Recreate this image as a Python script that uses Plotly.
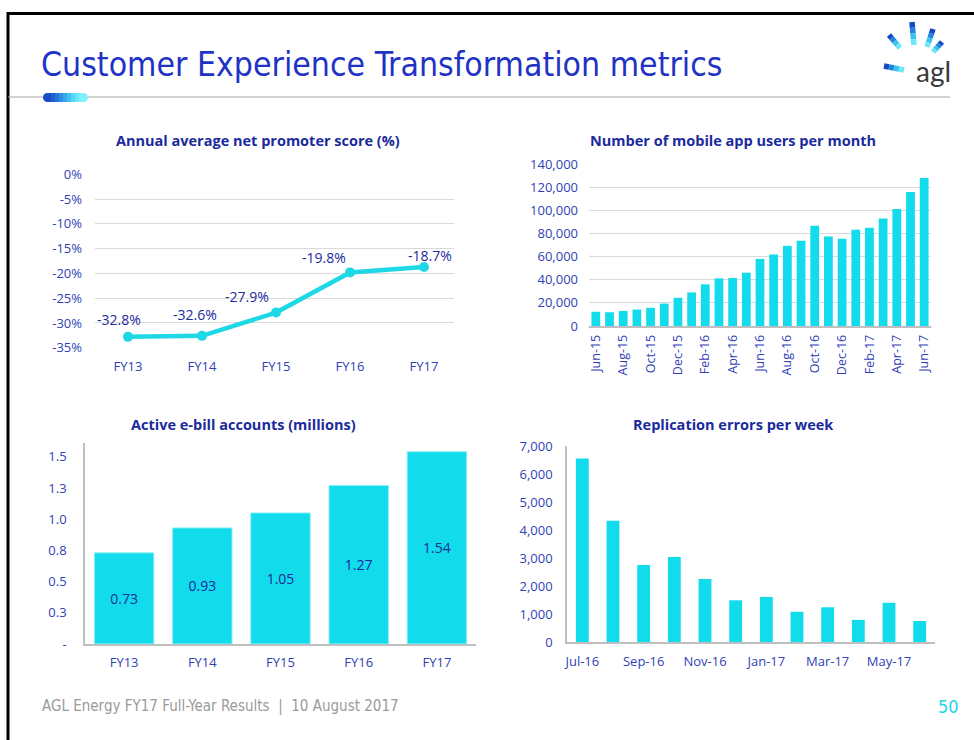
import plotly.graph_objects as go

# Annual average net promoter score (%)
nps_years = ["FY13", "FY14", "FY15", "FY16", "FY17"]
nps_values = [-32.8, -32.6, -27.9, -19.8, -18.7]
nps_ticks = [0, -5, -10, -15, -20, -25, -30, -35]

# Number of mobile app users per month
app_months = ["Jun-15", "Jul-15", "Aug-15", "Sep-15", "Oct-15", "Nov-15", "Dec-15",
              "Jan-16", "Feb-16", "Mar-16", "Apr-16", "May-16", "Jun-16", "Jul-16",
              "Aug-16", "Sep-16", "Oct-16", "Nov-16", "Dec-16", "Jan-17", "Feb-17",
              "Mar-17", "Apr-17", "May-17", "Jun-17"]
app_users = [12300, 11900, 13000, 14200, 15700, 19400, 24400, 29000, 36000, 41200,
             41500, 46100, 58000, 61800, 69300, 73600, 86700, 77400, 75400, 83200,
             85000, 92800, 101200, 115700, 127900]

# Active e-bill accounts (millions)
ebill_years = ["FY13", "FY14", "FY15", "FY16", "FY17"]
ebill_values = [0.73, 0.93, 1.05, 1.27, 1.54]
ebill_ticks = [0, 0.25, 0.5, 0.75, 1.0, 1.25, 1.5]
ebill_tick_labels = ["-", "0.3", "0.5", "0.8", "1.0", "1.3", "1.5"]

# Replication errors per week
rep_months = ["Jul-16", "Aug-16", "Sep-16", "Oct-16", "Nov-16", "Dec-16",
              "Jan-17", "Feb-17", "Mar-17", "Apr-17", "May-17", "Jun-17"]
rep_errors = [6550, 4330, 2750, 3040, 2250, 1490, 1610, 1080, 1240, 790, 1400, 750]

W, H = 974, 740
CYAN = "#12DCEB"
TICK_BLUE = "#2f3fb5"
TITLE_BLUE = "#1b2a9c"
GRID = "#d9d9d9"
AXIS = "#bfbfbf"
FONT = "Open Sans, Noto Sans, sans-serif"
NARROW = "Liberation Sans Narrow, DejaVu Sans Condensed, Roboto, sans-serif"


def px(x):
    return x / W


def py(y):
    return 1 - y / H


fig = go.Figure()

# --- line chart: NPS
fig.add_trace(go.Scatter(
    x=nps_years, y=nps_values, mode="lines+markers",
    line=dict(color="#1fd8e6", width=4.5),
    marker=dict(size=10, color="#1fd8e6"),
    xaxis="x", yaxis="y", showlegend=False, hoverinfo="skip"))

# label offsets in pixels (x, y) relative to each point
nps_label_shift = [(-9, 17), (-7, 21), (-29, 16), (-26, 15), (6, 11)]
for yr, v, (dx, dy) in zip(nps_years, nps_values, nps_label_shift):
    fig.add_annotation(x=yr, y=v, xref="x", yref="y", text=f"{v}%", showarrow=False,
                       xshift=dx, yshift=dy, font=dict(family=FONT, size=14, color=TITLE_BLUE))

# --- bar chart: app users
fig.add_trace(go.Bar(
    x=app_months, y=app_users, width=0.64, marker=dict(color=CYAN, line=dict(width=0)),
    xaxis="x2", yaxis="y2", showlegend=False, hoverinfo="skip"))

# --- bar chart: e-bill
fig.add_trace(go.Bar(
    x=ebill_years, y=ebill_values, width=0.76, text=[f"{v:.2f}" for v in ebill_values],
    textposition="inside", insidetextanchor="middle", textangle=0,
    textfont=dict(family=FONT, size=14, color=TITLE_BLUE),
    marker=dict(color=CYAN, line=dict(width=1, color="#8ff0f8")),
    xaxis="x3", yaxis="y3", showlegend=False, hoverinfo="skip"))

# --- bar chart: replication errors
fig.add_trace(go.Bar(
    x=rep_months, y=rep_errors, width=0.42, marker=dict(color=CYAN, line=dict(width=0)),
    xaxis="x4", yaxis="y4", showlegend=False, hoverinfo="skip"))

tickfont = dict(family=FONT, size=13, color=TICK_BLUE)

fig.update_layout(
    width=W, height=H, margin=dict(l=0, r=0, t=0, b=0),
    paper_bgcolor="white", plot_bgcolor="white",
    xaxis=dict(domain=[px(95), px(454)], anchor="y", tickfont=tickfont, showgrid=False,
               showline=False, ticks="", ticklabelstandoff=9),
    yaxis=dict(domain=[py(348), py(174)], anchor="x", range=[-35.05, 0.05],
               tickvals=nps_ticks, ticktext=[f"{t}%" for t in nps_ticks],
               tickfont=tickfont, showgrid=True, gridcolor=GRID, zeroline=False,
               ticklabelstandoff=12),
    xaxis2=dict(domain=[px(589), px(931)], anchor="y2",
                tickfont=dict(family=FONT, size=12.5, color=TICK_BLUE),
                tickangle=-90, tickvals=app_months[::2], showgrid=False, showline=True,
                linecolor=AXIS, linewidth=1.5, ticks="", ticklabelstandoff=2),
    yaxis2=dict(domain=[py(326), py(164)], anchor="x2", range=[0, 140000], dtick=20000,
                tickformat=",", tickfont=tickfont, showgrid=True, gridcolor=GRID,
                zeroline=False, ticklabelstandoff=10),
    xaxis3=dict(domain=[px(85), px(476)], anchor="y3", tickfont=tickfont, showgrid=False,
                showline=True, linecolor=AXIS, linewidth=1.5, ticks="", ticklabelstandoff=6),
    yaxis3=dict(domain=[py(644), py(443)], anchor="x3", range=[0, 1.61],
                tickvals=ebill_ticks, ticktext=ebill_tick_labels, tickfont=tickfont,
                showgrid=False, zeroline=False, showline=True, linecolor=AXIS,
                linewidth=1.5, ticklabelstandoff=14),
    xaxis4=dict(domain=[px(567), px(935)], anchor="y4", tickfont=tickfont, showgrid=False,
                tickvals=rep_months[::2], showline=True, linecolor=AXIS, linewidth=1.5,
                ticks="", ticklabelstandoff=7),
    yaxis4=dict(domain=[py(642), py(446)], anchor="x4", range=[0, 7000], dtick=1000,
                tickformat=",", tickfont=tickfont, showgrid=False, zeroline=False,
                showline=True, linecolor=AXIS, linewidth=1.5, ticklabelstandoff=10),
)
# keep the plot area at exactly the page size
fig.update_xaxes(automargin=False)
fig.update_yaxes(automargin=False)

# chart titles
for text, cx, cy in [("Annual average net promoter score (%)", 258, 140),
                     ("Number of mobile app users per month", 733, 140),
                     ("Active e-bill accounts (millions)", 243, 424),
                     ("Replication errors per week", 733, 424)]:
    fig.add_annotation(x=px(cx), y=py(cy), xref="paper", yref="paper", text=f"<b>{text}</b>",
                       showarrow=False, xanchor="center", yanchor="middle",
                       font=dict(family=FONT, size=14.5, color=TITLE_BLUE))

# slide title and footer
fig.add_annotation(x=px(39), y=py(64), xref="paper", yref="paper",
                   text="Customer Experience Transformation metrics", showarrow=False,
                   xanchor="left", yanchor="middle",
                   font=dict(family=NARROW, size=33.5, color="#1f33c4"))
fig.add_annotation(x=px(40), y=py(706), xref="paper", yref="paper",
                   text="AGL Energy FY17 Full-Year Results  |  10 August 2017", showarrow=False,
                   xanchor="left", yanchor="middle",
                   font=dict(family=NARROW, size=15, color="#9a9a9a"))
fig.add_annotation(x=px(961), y=py(706), xref="paper", yref="paper", text="50",
                   showarrow=False, xanchor="right", yanchor="middle",
                   font=dict(family=NARROW, size=18, color="#1ed6e6"))
fig.add_annotation(x=px(933), y=py(71), xref="paper", yref="paper", text="agl",
                   showarrow=False, xanchor="center", yanchor="middle",
                   font=dict(family="Lato, Open Sans, sans-serif", size=28, color="#3a3a3a"))

shapes = []
# slide border and header rule
shapes.append(dict(type="line", xref="paper", yref="paper", x0=px(7), x1=1, y0=py(13.5), y1=py(13.5),
                   line=dict(color="black", width=3)))
shapes.append(dict(type="line", xref="paper", yref="paper", x0=px(8), x1=px(8), y0=py(12), y1=0,
                   line=dict(color="black", width=3)))
shapes.append(dict(type="line", xref="paper", yref="paper", x0=px(8), x1=px(950), y0=py(97), y1=py(97),
                   line=dict(color="#a6a6a6", width=1)))

# gradient pill under the title
pill_colors = ["#1a4cc4", "#1f60cf", "#2677d9", "#2e8fe2", "#38a8ea", "#45c0f1", "#55d6f6", "#6ae6fa", "#80f0fd"]
x_start, x_end = 47, 83
step = (x_end - x_start) / len(pill_colors)
shapes.append(dict(type="circle", xref="paper", yref="paper", x0=px(43), x1=px(52), y0=py(102), y1=py(93),
                   fillcolor=pill_colors[0], line=dict(width=0)))
shapes.append(dict(type="circle", xref="paper", yref="paper", x0=px(79), x1=px(88), y0=py(102), y1=py(93),
                   fillcolor=pill_colors[-1], line=dict(width=0)))
for i, c in enumerate(pill_colors):
    shapes.append(dict(type="rect", xref="paper", yref="paper",
                       x0=px(x_start + i * step), x1=px(x_start + (i + 1) * step + 0.5),
                       y0=py(102), y1=py(93), fillcolor=c, line=dict(width=0)))

# logo rays: outer point, inner point; blue outside fading to cyan inside
rays = [((889, 35), (900, 48)), ((912, 22), (914, 45)), ((933, 29), (927, 47)),
        ((942, 42), (933, 52)), ((884, 66), (904, 70))]
ray_colors = ["#1548c6", "#2184dc", "#36c4ee", "#6ee6f8"]
for (ox, oy), (ix, iy) in rays:
    n = len(ray_colors)
    for k, c in enumerate(ray_colors):
        x0 = ox + (ix - ox) * k / n
        y0 = oy + (iy - oy) * k / n
        x1 = ox + (ix - ox) * (k + 1) / n
        y1 = oy + (iy - oy) * (k + 1) / n
        shapes.append(dict(type="line", xref="paper", yref="paper", x0=px(x0), y0=py(y0),
                           x1=px(x1), y1=py(y1), line=dict(color=c, width=5.5)))

fig.update_layout(shapes=shapes)

# page margin off so the 974x740 figure fills the window
fig.write_html("out.html", config={"displayModeBar": False},
               post_script="document.body.style.margin='0';document.body.style.overflow='hidden';")
